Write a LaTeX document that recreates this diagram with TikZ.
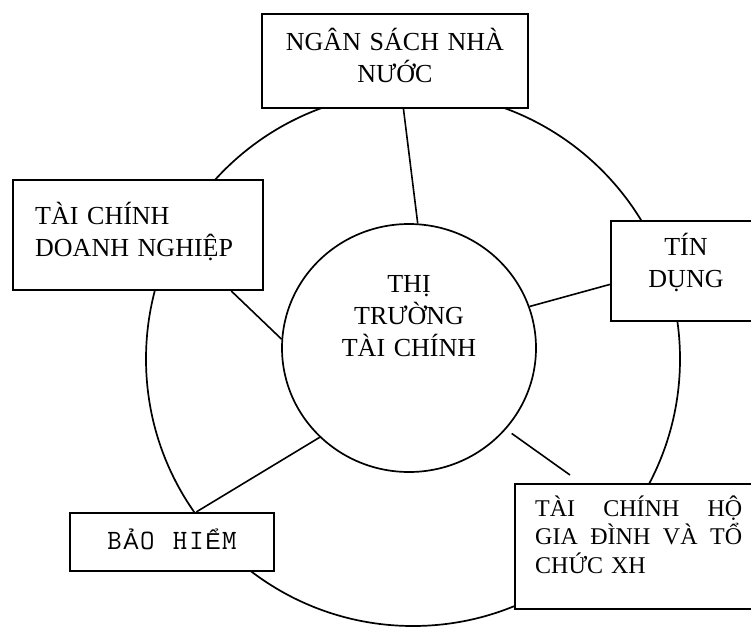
\documentclass[tikz,border=0pt]{standalone}
\usepackage{fontspec}
\setmainfont{Liberation Serif}
\newfontfamily\fbsans{Liberation Sans}
\usetikzlibrary{shapes.geometric}
% fixed-width cell for the typewriter label
\newcommand\tcell[1]{\makebox[16.4pt][c]{#1}}
% hooked capitals set in a sans face
\newcommand\hookglyph[1]{{\fbsans\fontsize{23}{23}\selectfont #1}}
\begin{document}
\begin{tikzpicture}[x=1pt,y=-1pt,
  boxstyle/.style={draw, fill=white, line width=2.2pt, inner sep=0pt},
  ring/.style={draw, circle, line width=1.7pt, inner sep=0pt},
  link/.style={line width=1.6pt},
  lbl/.style={inner sep=0pt, font=\fontsize{26}{32}\selectfont},
]
\useasboundingbox (0,0) rectangle (751,629);

% outer ring
\node[ring, minimum size=534pt] (vong) at (413,359) {};

% boxes around the ring
\node[boxstyle, minimum width=266pt, minimum height=94pt]  (nsnn)    at (395,61)    {};
\node[boxstyle, minimum width=250pt, minimum height=110pt] (tcdn)    at (138,235)   {};
\node[boxstyle, minimum width=150pt, minimum height=100pt] (tindung) at (686,271)   {};
\node[boxstyle, minimum width=204pt, minimum height=58pt]  (baohiem) at (172,542)   {};
\node[boxstyle, minimum width=248pt, minimum height=125pt] (hogd)    at (639,546.5) {};

% central market
\node[draw, fill=white, ellipse, line width=1.7pt, inner sep=0pt,
      minimum width=254pt, minimum height=248pt] (ttc) at (409,348) {};

% spokes
\draw[link] (nsnn.-80.5) -- (ttc.86.7);
\draw[link] (tcdn.-31.7) -- (ttc.176.4);
\draw[link] (ttc.19.6) -- (tindung.-170.1);
\draw[link] (ttc.-135) -- (baohiem.51.6);
\coordinate (hogdtip) at (570,475);
\draw[link, shorten <=7pt] (ttc.-40.7) -- (hogdtip);

% labels
\node[lbl, text width=240pt, align=center, anchor=base] (nsnntext) at (395,50)
  {NGÂN SÁCH NHÀ\\NƯỚC};
\node[lbl, text width=220pt, align=left, anchor=base west] (tcdntext) at (35,224)
  {TÀI CHÍNH\\DOANH NGHIỆP};
\node[lbl, text width=130pt, align=center, anchor=base] (tdtext) at (686,255)
  {TÍN\\DỤNG};
\node[lbl, text width=220pt, align=center, anchor=base] (ttctext) at (409,292)
  {THỊ\\TRƯỜNG\\TÀI CHÍNH};
\node[inner sep=0pt, anchor=base, font=\ttfamily\fontsize{28}{28}\selectfont] (bhtext) at (172,549)
  {\tcell{B}\tcell{\hookglyph{Ả}}\tcell{O}\tcell{ }\tcell{H}\tcell{I}\tcell{\hookglyph{Ể}}\tcell{M}};
\node[lbl, font=\fontsize{24}{28.3}\selectfont, text width=207pt, align=left, anchor=base west] (hogdtext) at (535,516.5)
  {\makebox[\linewidth][l]{TÀI\hfill CHÍNH\hfill HỘ}\\
   \makebox[\linewidth][l]{GIA\hfill ĐÌNH\hfill VÀ\hfill TỔ}\\
   CHỨC XH};
\end{tikzpicture}
\end{document}
